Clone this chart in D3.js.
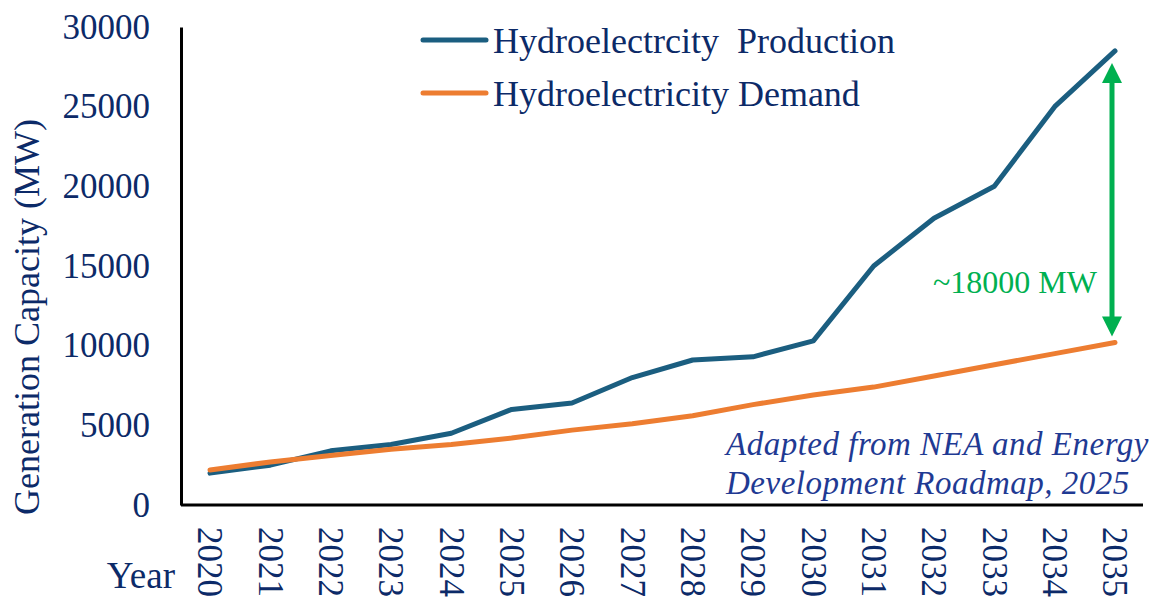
<!DOCTYPE html>
<html>
<head>
<meta charset="utf-8">
<script src="https://cdn.jsdelivr.net/npm/d3@7"></script>
<style>
  body { margin: 0; background: #fff; }
  text { font-family: "Liberation Serif", "Times New Roman", serif; }
</style>
</head>
<body>
<div id="chart"></div>
<script>
var width = 1157,
    height = 599
var margin = {left: 181, right: 11, top: 27, bottom: 94}

var years = ["2020","2021","2022","2023","2024","2025","2026","2027","2028","2029","2030","2031","2032","2033","2034","2035"]
var production = [2000, 2500, 3400, 3800, 4500, 6000, 6400, 8000, 9100, 9300, 10300, 15000, 18000, 20000, 25000, 28500]
var demand = [2200, 2700, 3100, 3500, 3800, 4200, 4700, 5100, 5600, 6300, 6900, 7400, 8100, 8800, 9500, 10200]
var yTicks = [0, 5000, 10000, 15000, 20000, 25000, 30000]
var seriesNames = ["Hydroelectrcity\u00a0 Production", "Hydroelectricity Demand"]
var seriesColors = ["#1b5e80", "#ed7d31"]
var navy = "#0c2a68"

var svg = d3.select("#chart")
  .append("svg")
    .attr("width", width)
    .attr("height", height)

var x = d3.scalePoint()
  .domain(years)
  .range([210, 1115])

var y = d3.scaleLinear()
  .domain([0, 30000])
  .range([height - margin.bottom, margin.top])

// axes
var yAxis = svg.append("g")
  .attr("transform", "translate(" + margin.left + ",0)")
  .call(d3.axisLeft(y).tickValues(yTicks).tickSize(0).tickPadding(31).tickFormat(d3.format("d")))
yAxis.select(".domain").attr("stroke", "#000").attr("stroke-width", 3)
yAxis.selectAll("text")
  .attr("fill", navy)
  .style("font-size", "35px")
  .attr("dy", "0.32em")

var xAxis = svg.append("g")
  .attr("transform", "translate(0," + y(0) + ")")
  .call(d3.axisBottom(x).tickSize(0).tickPadding(0))
xAxis.select(".domain")
  .attr("d", "M" + margin.left + ",0H1143")
  .attr("stroke", "#000").attr("stroke-width", 3)
xAxis.selectAll("text")
  .attr("fill", navy)
  .style("font-size", "35px")
  .attr("text-anchor", "start")
  .attr("transform", "translate(0,22) rotate(90)")
  .attr("x", 0).attr("y", 0)
  .attr("dy", "0.35em")

// axis titles
svg.append("text")
  .attr("transform", "translate(39,317) rotate(-90)")
  .attr("text-anchor", "middle")
  .attr("fill", navy)
  .style("font-size", "36px")
  .text("Generation Capacity (MW)")

svg.append("text")
  .attr("x", 175).attr("y", 588)
  .attr("text-anchor", "end")
  .attr("fill", navy)
  .style("font-size", "37px")
  .text("Year")

// lines
var line = d3.line()
  .x(function(d, i) { return x(years[i]) })
  .y(function(d) { return y(d) })

;[production, demand].forEach(function(s, i) {
  svg.append("path")
    .datum(s)
    .attr("d", line)
    .attr("fill", "none")
    .attr("stroke", seriesColors[i])
    .attr("stroke-width", 5)
    .attr("stroke-linejoin", "round")
    .attr("stroke-linecap", "round")
})

// legend
var legend = svg.append("g")
seriesNames.forEach(function(n, i) {
  var ly = 40 + i * 53
  legend.append("line")
    .attr("x1", 423).attr("x2", 486)
    .attr("y1", ly).attr("y2", ly)
    .attr("stroke", seriesColors[i])
    .attr("stroke-width", 5)
    .attr("stroke-linecap", "round")
  legend.append("text")
    .attr("x", 493).attr("y", ly)
    .attr("dy", "0.35em")
    .attr("fill", navy)
    .style("font-size", "36px")
    .text(n)
})

// gap arrow
var green = "#00b050"
var ax = x("2035") - 3
var yTop = y(production[15]) + 12
var yBot = y(demand[15]) - 6
svg.append("line")
  .attr("x1", ax).attr("x2", ax)
  .attr("y1", yTop + 18).attr("y2", yBot - 18)
  .attr("stroke", green).attr("stroke-width", 5)
svg.append("path")
  .attr("d", "M" + ax + "," + yTop + "L" + (ax + 10) + "," + (yTop + 20) + "L" + (ax - 10) + "," + (yTop + 20) + "Z")
  .attr("fill", green)
svg.append("path")
  .attr("d", "M" + ax + "," + yBot + "L" + (ax + 10) + "," + (yBot - 20) + "L" + (ax - 10) + "," + (yBot - 20) + "Z")
  .attr("fill", green)
svg.append("text")
  .attr("x", 1097).attr("y", 282)
  .attr("dy", "0.35em")
  .attr("text-anchor", "end")
  .attr("fill", green)
  .style("font-size", "32px")
  .text("~18000 MW")

// source note
var note = ["Adapted from NEA and Energy", "Development Roadmap, 2025"]
note.forEach(function(t, i) {
  svg.append("text")
    .attr("x", 726).attr("y", 443 + i * 39)
    .attr("dy", "0.35em")
    .attr("fill", "#1f3a93")
    .style("font-size", "33px")
    .style("font-style", "italic")
    .style("letter-spacing", "0.5px")
    .text(t)
})
</script>
</body>
</html>
